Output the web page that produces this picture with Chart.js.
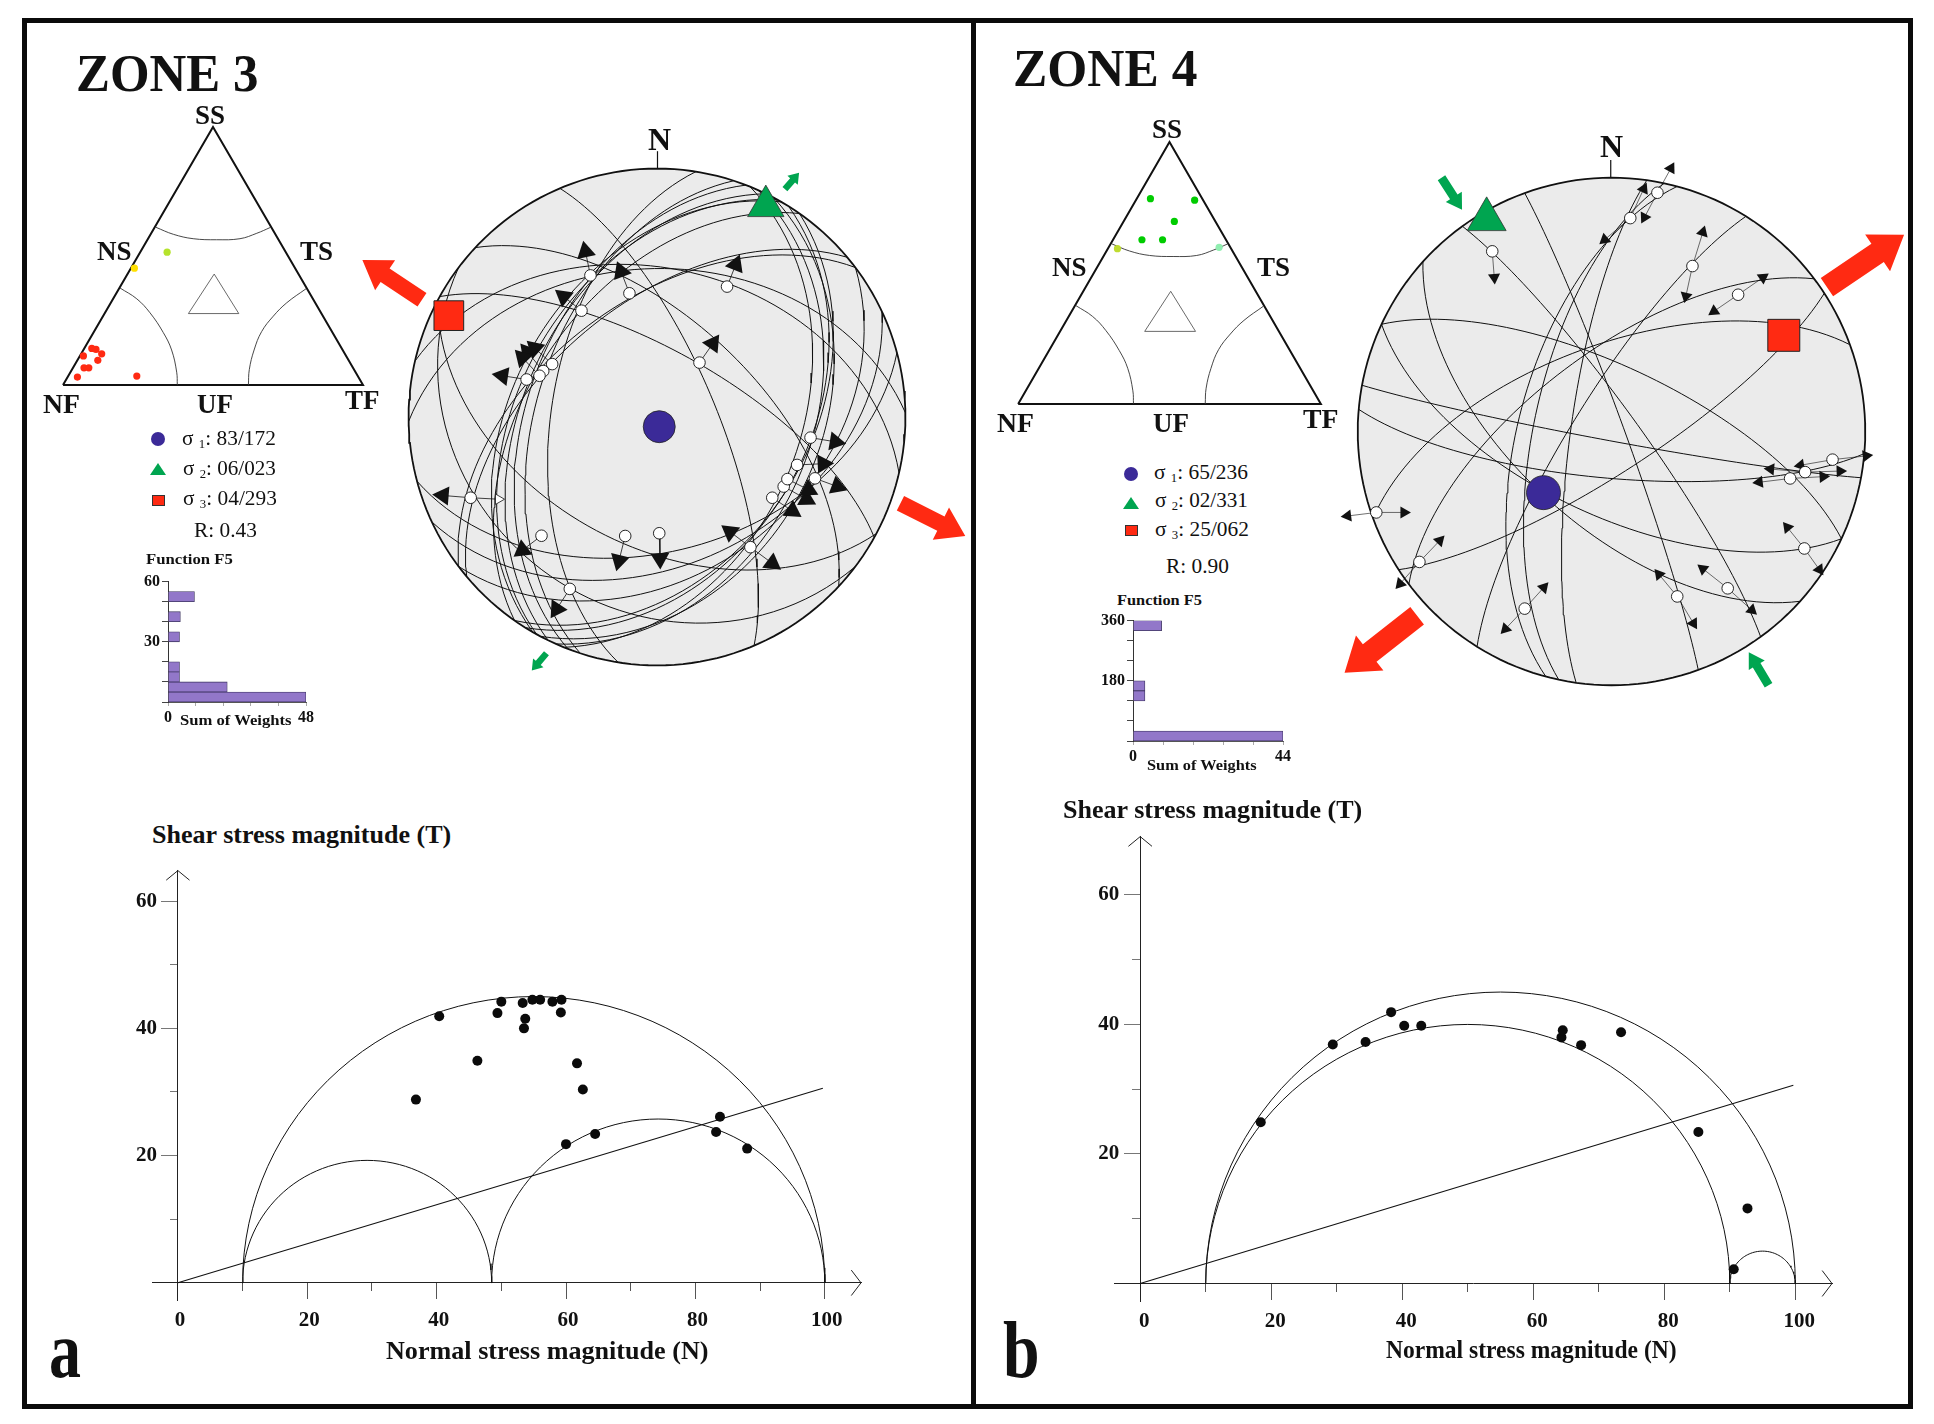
<!DOCTYPE html>
<html>
<head>
<meta charset="utf-8">
<title>Zone 3 and Zone 4 stress inversion</title>
<script src="https://cdn.jsdelivr.net/npm/chart.js@4"></script>
<style>
html, body { margin: 0; padding: 0; background: #fff; overflow: hidden; }
#page { position: relative; width: 1934px; height: 1424px; font-family: "Liberation Serif", serif; color: #111; overflow: hidden; }
canvas { position: absolute; }
.txt { position: absolute; white-space: nowrap; line-height: 1; transform-origin: 0 50%; }
.bar { position: absolute; background: #0b0b0b; }
.mark { position: absolute; box-sizing: border-box; }
</style>
</head>
<body>
<div id="page"></div>
<script>
// ---------- ternary diagram template (percent of base, percent of height)
const triangleFrame = [[0,0],[100,0],[50,100],[0,0]];
const innerTriangle = [[41.8,27.7],[58.6,27.7],[50.4,43],[41.8,27.7]];
const arcSS = [[31,61.1],[36.8,58.4],[43.4,56.7],[51.2,56.3],[59,56.7],[64.6,58.8],[69.2,61.1]];
const arcNF = [[19,37.6],[24.6,33.4],[29,28],[33.4,20.4],[36.2,13.6],[37.9,5],[38.1,0]];
const arcTF = [[81,37.3],[74.6,31.9],[70.1,26.7],[66.2,20.7],[63.7,13.6],[62.1,6],[61.8,0]];

// ---------- zone 3 (panel a)
const ternaryRedA = [[6.8,11.3],[9.6,14.2],[11,13.8],[12.9,12.1],[11.6,9.6],[7,6.7],[8.6,6.7],[4.8,3.1],[24.6,3.5]];
const ternaryYellowA = [[23.8,45.3]];
const ternaryLimeA = [[34.7,51.5]];
const stressLabelsA = ['83/172','06/023','04/293'];
const ratioA = '0.43';
const histValuesA = [48,20.6,4,4,null,null,4,null,4.3,null,9.2,null];
const planesA = [[29,68],[43,58],[67,71],[279,55],[155,40],[13,40],[359,40],[323,52],[165,45],[143,37],[217,24],[208,47],
  [320,53],[305,48],[299,44],[296,46],[291,47],[288,50],[300,42],
  [112,42],[114,38],[118,35],[122,40],[125,40]];
const slipPointsA = [[-26.8,57],[-11.1,49.8],[-30.4,42.8],[28.2,52.5],[17.1,21.9],[-42.2,21.3],[-45.8,18.5],[-47.3,16.6],[-52.5,15.1],
  [-75,-32.5],[-46.5,-47.8],[-12.8,-47.9],[0.9,-46.8],[-35.1,-69.2],[37.6,-52.4],[46.4,-32.5],[51,-28],[52.5,-25],[56.4,-19.3],[63.6,-24.7],[61.8,-8.3]];
const slipHeadsA = [[[-28.8,66.6]],[[-14.5,58.6]],[[-37.6,48.5]],[[31.7,61.3]],[[22.5,29.6]],[[-49.2,27.7]],[[-52.2,26.2]],[[-54.2,23.9]],[[-62.2,16.6]],
  [[-86.1,-31.6]],[[-54.2,-53.6]],[[-15.3,-57.8]],[[1.2,-57]],[[-40.4,-77.3]],[[29.4,-46.2],[46.4,-58.9]],[[54.5,-37.8]],[[60.2,-33.1]],[[61,-29.3]],[[66.9,-18.8]],[[72.6,-28]],[[71.8,-10]]];
const sigma1A = [0.9,-3.9];
const sigma2A = [43.8,84.9];
const sigma3A = [-83.8,40.8];
const redArrowsA = [[[-94.6,47.2],[-118.6,63.2]],[[98,-34.7],[124.1,-47.9]]];
const greenArrowsA = [[[51.5,91.7],[57.2,98.3]],[[-44.5,-95.1],[-50.4,-102]]];
const mohrPointsA = [[40.4,41.9],[50,44.2],[49.4,42.4],[53.3,44],[54.8,44.5],[56,44.5],[57.9,44.2],[59.3,44.5],[59.2,42.5],[53.7,41.5],[53.5,40],
  [46.3,34.9],[36.8,28.8],[61.7,34.5],[62.6,30.4],[60,21.8],[64.5,23.4],[83.8,26.1],[83.2,23.7],[88,21.1]];
const mohrCirclesA = [[10,100],[10,48.5],[48.5,100]];

// ---------- zone 4 (panel b)
const ternaryGreenB = [[43.7,78.4],[58.3,77.8],[51.6,69.7],[40.9,62.7],[47.7,62.7]];
const ternaryLimeB = [[32.8,59.3]];
const ternaryMintB = [[66.4,59.8]];
const stressLabelsB = ['65/236','02/331','25/062'];
const ratioB = '0.90';
const histValuesB = [44,null,null,null,3.5,3.5,null,null,null,null,null,8.4];
const planesB = [[70,86],[222,60],[205,63],[190.5,87],[185,75],[25,69],[340,62],[323,65],[302,78],[147,77],[285,60],[282,65],[278,77],[54,82]];
const slipPointsB = [[-47,71],[7.4,84.1],[18.1,94.1],[31.9,65.2],[49.9,53.9],[87.1,-11.1],[76.3,-16],[70.4,-18.5],[76,-46.1],[45.8,-61.8],[25.9,-65],[-34.2,-69.8],[-75.7,-51.4],[-92.7,-31.9]];
const slipHeadsB = [[[-46.2,60.7]],[[-2.7,75.6],[12.7,95.6]],[[13,84.4],[23.4,103.7]],[[36,78.5],[29.3,53.3]],[[59.7,60.7],[40.4,47.4]],[[100.4,-9.6],[74.5,-13.3]],[[90.1,-15.6],[62.7,-14.8]],
  [[83.4,-17.8],[58.2,-20]],[[69.3,-37.8],[81.9,-54.4]],[[36,-54.1],[55.3,-70.4]],[[18.7,-56.3],[32.3,-75.6]],[[-26.7,-61.5],[-41.8,-77.8]],[[-67.7,-43],[-83.3,-60]],[[-81.8,-31.9],[-104,-33.3]]];
const sigma1B = [-26.8,-24.1];
const sigma2B = [-49.2,83.6];
const sigma3B = [67.9,37.9];
const redArrowsB = [[[84.9,56.9],[115.3,77.5]],[[-76.6,-72.6],[-105.2,-95.1]]];
const greenArrowsB = [[[-67,100],[-58.9,87.4]],[[61.9,-100],[54.1,-87]]];
const mohrPointsB = [[18.4,24.9],[29.4,36.9],[34.4,37.3],[38.3,41.9],[40.3,39.8],[42.9,39.8],[64.3,38],[64.5,39.1],[67.3,36.8],[73.4,38.8],[85.2,23.4],[92.7,11.6],[90.6,2.2]];
const mohrCirclesB = [[10,100],[10,90],[90,100]];

const slopeEnd = [99.7,30.6];
const histBins = ['b1','b2','b3','b4','b5','b6','b7','b8','b9','b10','b11','b12'];

const page = document.getElementById('page');
const toXY = list => list.map(p => ({ x: p[0], y: p[1] }));

function addCanvas(left, top, w, h) {
    const c = document.createElement('canvas');
    c.width = w;
    c.height = h;
    c.style.left = left + 'px';
    c.style.top = top + 'px';
    page.appendChild(c);
    return c;
}

// text stretched to the width it has in the picture
function addText(html, x1, x2, yc, size, bold) {
    const s = document.createElement('span');
    s.className = 'txt';
    s.innerHTML = html;
    s.style.left = x1 + 'px';
    s.style.top = (yc - size / 2) + 'px';
    s.style.fontSize = size + 'px';
    s.style.fontWeight = bold ? 'bold' : 'normal';
    page.appendChild(s);
    s.style.transform = 'scaleX(' + ((x2 - x1) / s.offsetWidth) + ')';
}

function addBar(x, y, w, h) {
    const d = document.createElement('div');
    d.className = 'bar';
    d.style.cssText = 'left:' + x + 'px;top:' + y + 'px;width:' + w + 'px;height:' + h + 'px';
    page.appendChild(d);
}

function addMarks(x, ys) {
    const circle = document.createElement('div');
    circle.className = 'mark';
    circle.style.cssText = 'left:' + (x - 7) + 'px;top:' + (ys[0] - 7) + 'px;width:14px;height:14px;border-radius:50%;background:#3b2a98';
    const tri = document.createElement('div');
    tri.className = 'mark';
    tri.style.cssText = 'left:' + (x - 8) + 'px;top:' + (ys[1] - 6) + 'px;width:0;height:0;border-left:8px solid transparent;border-right:8px solid transparent;border-bottom:12px solid #00a550';
    const sq = document.createElement('div');
    sq.className = 'mark';
    sq.style.cssText = 'left:' + (x - 6.5) + 'px;top:' + (ys[2] - 5.5) + 'px;width:13px;height:11px;background:#ff2a12;border:1px solid #333';
    page.append(circle, tri, sq);
}

function lineSet(points, color, width, extra) {
    return Object.assign({ data: toXY(points), borderColor: color, borderWidth: width, pointRadius: 0, fill: false, clip: false, tension: 0 }, extra || {});
}

function dotSet(points, color, radius, extra) {
    return Object.assign({ data: toXY(points), showLine: false, backgroundColor: color, borderColor: color, borderWidth: 0, pointRadius: radius, clip: false }, extra || {});
}

function baseOptions(scales, padding) {
    return {
        responsive: false,
        animation: false,
        events: [],
        layout: { autoPadding: false, padding: padding || 0 },
        plugins: { legend: { display: false }, tooltip: { enabled: false } },
        scales: scales
    };
}

// ---------- ternary
function ternaryChart(nfX, baseY, w, h, dots) {
    const pad = 5;
    const pxX = w / 100, pxY = h / 100;
    const c = addCanvas(nfX - pad * pxX, baseY - (100 + pad) * pxY, w + 2 * pad * pxX, h + 2 * pad * pxY);
    const datasets = [
        lineSet(triangleFrame, '#111', 2),
        lineSet(innerTriangle, '#444', 0.8),
        lineSet(arcSS, '#333', 0.9, { tension: 0.4 }),
        lineSet(arcNF, '#333', 0.9, { tension: 0.4 }),
        lineSet(arcTF, '#333', 0.9, { tension: 0.4 })
    ].concat(dots);
    new Chart(c, {
        type: 'line',
        data: { datasets: datasets.reverse() },
        options: baseOptions({
            x: { type: 'linear', display: false, min: -pad, max: 100 + pad },
            y: { type: 'linear', display: false, min: -pad, max: 100 + pad }
        })
    });
}

// ---------- stereonet, lower hemisphere equal area
function greatCircle(dipDir, dip) {
    const rad = Math.PI / 180, pts = [];
    for (let t = 0; t <= 180; t += 3) {
        const a = t * rad;
        const plunge = Math.asin(Math.sin(dip * rad) * Math.sin(a));
        const trend = (dipDir - 90) * rad + Math.atan2(Math.cos(dip * rad) * Math.sin(a), Math.cos(a));
        const r = 100 * Math.SQRT2 * Math.sin((Math.PI / 2 - plunge) / 2);
        pts.push([r * Math.sin(trend), r * Math.cos(trend)]);
    }
    return pts;
}

function rimCircle() {
    const pts = [];
    for (let t = 0; t <= 360; t += 2) {
        pts.push([100 * Math.sin(t * Math.PI / 180), 100 * Math.cos(t * Math.PI / 180)]);
    }
    return pts;
}

function blockArrow(tail, tip, shaft, head, headLen) {
    const dx = tip[0] - tail[0], dy = tip[1] - tail[1], len = Math.hypot(dx, dy);
    const ux = dx / len, uy = dy / len, nx = -uy, ny = ux;
    const at = (along, side) => [tail[0] + ux * along + nx * side, tail[1] + uy * along + ny * side];
    const neck = len - headLen;
    return [at(0, shaft / 2), at(neck, shaft / 2), at(neck, head / 2), at(len, 0), at(neck, -head / 2), at(neck, -shaft / 2), at(0, -shaft / 2), at(0, shaft / 2)];
}

function netChart(cfg) {
    const k = cfg.radius / 100;
    const range = cfg.range;
    const c = addCanvas(cfg.cx - range * k, cfg.cy - range * k, 2 * range * k, 2 * range * k);
    const datasets = [];
    datasets.push(lineSet(rimCircle(), '#111', 1.8, { fill: 'shape', backgroundColor: '#ebebeb' }));
    datasets.push(lineSet([[cfg.tickX, 100], [cfg.tickX, 107]], '#111', 1.2));
    cfg.planes.forEach(p => datasets.push(lineSet(greatCircle(p[0], p[1]), '#111', 1)));
    // slip vectors: a stem from each fault pole to its arrow heads
    const heads = [], rotations = [];
    cfg.slipPoints.forEach((pt, i) => {
        cfg.slipHeads[i].forEach(h => {
            datasets.push(lineSet([pt, h], '#111', cfg.stem));
            heads.push(h);
            rotations.push(Math.atan2(h[0] - pt[0], h[1] - pt[1]) * 180 / Math.PI);
        });
    });
    datasets.push(dotSet(heads, '#111', cfg.headSize, { pointStyle: 'triangle', pointRotation: rotations }));
    if (cfg.hollow) {
        datasets.push(lineSet([cfg.hollow[0], cfg.hollow[1]], '#111', 0.8));
        datasets.push(dotSet([cfg.hollow[1]], '#fff', 6, { pointStyle: 'triangle', borderColor: '#111', borderWidth: 0.8, pointRotation: [90] }));
    }
    datasets.push(dotSet(cfg.slipPoints, '#fff', 5.8, { borderColor: '#111', borderWidth: 0.9 }));
    datasets.push(dotSet([cfg.sigma1], '#3b2a98', cfg.sigma1Size, { borderColor: '#222', borderWidth: 0.8 }));
    datasets.push(dotSet([cfg.sigma2], '#00a550', cfg.sigma2Size, { pointStyle: 'triangle', borderColor: '#333', borderWidth: 0.8 }));
    datasets.push(dotSet([cfg.sigma3], '#ff2a12', cfg.sigma3Size, { pointStyle: 'rect', borderColor: '#222', borderWidth: 1 }));
    cfg.red.forEach(a => datasets.push(lineSet(blockArrow(a[0], a[1], cfg.redShaft, cfg.redHead, cfg.redHeadLen), '#ff2a12', 0, { fill: 'shape', backgroundColor: '#ff2a12' })));
    cfg.green.forEach(a => datasets.push(lineSet(blockArrow(a[0], a[1], cfg.greenShaft, cfg.greenHead, cfg.greenHeadLen), '#00a550', 0, { fill: 'shape', backgroundColor: '#00a550' })));
    new Chart(c, {
        type: 'line',
        data: { datasets: datasets.reverse() },
        options: baseOptions({
            x: { type: 'linear', display: false, min: -range, max: range },
            y: { type: 'linear', display: false, min: -range, max: range }
        })
    });
}

// ---------- histogram of the misfit function
function histChart(cfg) {
    const left = 44, right = 14, top = 10, bottom = 24;
    const w = cfg.xEnd - cfg.x0, h = cfg.y0 - cfg.yTop;
    const c = addCanvas(cfg.x0 - left, cfg.yTop - top, w + left + right, h + top + bottom);
    const font = { family: 'Liberation Serif', size: 16, weight: 'bold' };
    new Chart(c, {
        type: 'bar',
        data: {
            labels: histBins,
            datasets: [{ data: cfg.values, backgroundColor: '#9277c9', borderColor: '#3d3560', borderWidth: 0.8, barPercentage: 1, categoryPercentage: 1 }]
        },
        options: Object.assign(baseOptions({
            y: { type: 'category', display: false, reverse: true },
            x: {
                type: 'linear', min: 0, max: cfg.xMax, position: { v: 0 },
                border: { color: '#555' }, grid: { drawOnChartArea: false, tickLength: 3, tickColor: '#aaa' },
                ticks: { stepSize: cfg.xMax / 5, maxRotation: 0, autoSkip: false, padding: 3, color: '#111', font: font,
                    callback: v => (v === 0 || v === cfg.xMax) ? String(v) : '' }
            },
            v: {
                // a second y scale on a bar chart inherits the category offset, so switch it off
                type: 'linear', axis: 'y', min: 0, max: cfg.yMax, position: { x: 0 }, offset: false,
                border: { color: '#333' }, grid: { offset: false, drawOnChartArea: false, tickLength: 6, tickColor: '#444' },
                ticks: { stepSize: cfg.yMax / 6, autoSkip: false, padding: 2, color: '#111', font: font,
                    // labels of an axis placed by value sit on the line, the spaces move them past the tick
                    callback: v => (v === cfg.yMax || v === cfg.yMax / 2) ? v + '  ' : '' }
            }
        }, { left: left, right: right, top: top, bottom: bottom }), { indexAxis: 'y' })
    });
}

// ---------- Mohr diagram
function semiCircle(lo, hi) {
    const pts = [], c = (lo + hi) / 2, r = (hi - lo) / 2;
    for (let t = 0; t <= 180; t += 3) {
        pts.push([c - r * Math.cos(t * Math.PI / 180), r * Math.sin(t * Math.PI / 180)]);
    }
    return pts;
}

function mohrChart(cfg) {
    const xMin = -4, xMax = 105.6, yMin = -2.7, yMax = cfg.yMax;
    const kx = (cfg.x100 - cfg.x0) / 100, ky = (cfg.y0 - cfg.y60) / 60;
    const pad = { left: 60, right: 30, top: 10, bottom: 60 };
    const areaW = (xMax - xMin) * kx, areaH = (yMax - yMin) * ky;
    const c = addCanvas(cfg.x0 + xMin * kx - pad.left, cfg.y0 - yMax * ky - pad.top, areaW + pad.left + pad.right, areaH + pad.top + pad.bottom);
    const font = { family: 'Liberation Serif', size: 21, weight: 'bold' };
    const datasets = [
        lineSet([[xMax - 1.5, 2], [xMax, 0], [xMax - 1.5, -2]], '#222', 1),
        lineSet([[-1.8, yMax - 1.5], [0, yMax], [1.8, yMax - 1.5]], '#222', 1),
        lineSet([[0, 0], slopeEnd], '#111', 1.1)
    ];
    cfg.circles.forEach(s => datasets.push(lineSet(semiCircle(s[0], s[1]), '#111', 1)));
    datasets.push(dotSet(cfg.points, '#0b0b0b', 5));
    new Chart(c, {
        type: 'line',
        data: { datasets: datasets.reverse() },
        options: baseOptions({
            x: {
                type: 'linear', min: xMin, max: xMax, position: { y: 0 },
                border: { color: '#222', width: 1 }, grid: { drawOnChartArea: false, tickLength: 16, tickColor: '#555' },
                ticks: { stepSize: 20, includeBounds: false, maxRotation: 0, autoSkip: false, padding: 9, labelOffset: cfg.labelOffset, color: '#111', font: font }
            },
            x2: {
                type: 'linear', axis: 'x', min: xMin, max: xMax, position: { y: 0 },
                border: { display: false }, grid: { drawOnChartArea: false, tickLength: 8, tickColor: '#555' },
                ticks: { stepSize: 10, includeBounds: false, display: false }
            },
            y: {
                type: 'linear', min: yMin, max: yMax, position: { x: 0 },
                border: { color: '#222', width: 1 }, grid: { drawOnChartArea: false, tickLength: 16, tickColor: '#777' },
                ticks: { stepSize: 20, includeBounds: false, autoSkip: false, color: '#111', font: font,
                    callback: v => v === 0 ? '' : v + '    ' }
            },
            y2: {
                type: 'linear', axis: 'y', min: yMin, max: yMax, position: { x: 0 },
                border: { display: false }, grid: { drawOnChartArea: false, tickLength: 8, tickColor: '#777' },
                ticks: { stepSize: 10, includeBounds: false, display: false }
            }
        }, pad)
    });
}

function sigmaText(n, label) {
    return '&sigma; <span style="font-size:0.6em;position:relative;top:0.25em">' + n + '</span>: ' + label;
}

// ---------- frame
addBar(22, 18, 1891, 5);
addBar(22, 1404, 1891, 5);
addBar(22, 18, 5, 1391);
addBar(1908, 18, 5, 1391);
addBar(971, 18, 5, 1391);

// ---------- panel a
ternaryChart(63, 386, 300, 259, [
    dotSet(ternaryRedA, '#ff2a12', 3.6),
    dotSet(ternaryYellowA, '#ffe000', 3.6),
    dotSet(ternaryLimeA, '#b5e32c', 3.6)
]);
histChart({ x0: 168, xEnd: 306, y0: 702, yTop: 580, xMax: 48, yMax: 60, values: histValuesA });
netChart({ cx: 657.5, cy: 417.6, radius: 248.6, range: 126, tickX: 0.2, planes: planesA, slipPoints: slipPointsA, slipHeads: slipHeadsA, stem: 0.8,
    hollow: [[-75, -32.5], [-63.8, -33.1]], headSize: 11, sigma1: sigma1A, sigma2: sigma2A, sigma3: sigma3A, sigma1Size: 16, sigma2Size: 21, sigma3Size: 21,
    red: redArrowsA, green: greenArrowsA, redShaft: 6.5, redHead: 14.5, redHeadLen: 11, greenShaft: 2.6, greenHead: 5.5, greenHeadLen: 4 });
mohrChart({ x0: 178, x100: 825, y0: 1283.5, y60: 896, yMax: 64.8, labelOffset: 2, points: mohrPointsA, circles: mohrCirclesA });

addText('ZONE 3', 76, 258, 74, 52, true);
addText('SS', 195, 225, 115, 27, true);
addText('NS', 97, 132, 251, 27, true);
addText('TS', 300, 333, 251, 27, true);
addText('NF', 43, 80, 404, 27, true);
addText('UF', 197, 233, 404, 27, true);
addText('TF', 345, 380, 400, 27, true);
addMarks(158, [439, 469, 500]);
addText(sigmaText(1, stressLabelsA[0]), 182, 276, 438, 20, false);
addText(sigmaText(2, stressLabelsA[1]), 183, 276, 468, 20, false);
addText(sigmaText(3, stressLabelsA[2]), 183, 277, 498, 20, false);
addText('R: ' + ratioA, 194, 257, 530, 20, false);
addText('Function F5', 146, 233, 559, 15, true);
addText('Sum of Weights', 180, 292, 720, 15, true);
addText('N', 648, 671, 139, 32, true);
addText('Shear stress magnitude (T)', 152, 451, 834, 25, true);
addText('Normal stress magnitude (N)', 386, 709, 1350, 25, true);
addText('a', 49, 81, 1350, 80, true);

// ---------- panel b
ternaryChart(1018, 404.6, 303, 262.6, [
    dotSet(ternaryGreenB, '#00cc00', 3.6),
    dotSet(ternaryLimeB, '#bfdc30', 3.6),
    dotSet(ternaryMintB, '#90eeb0', 3.6)
]);
histChart({ x0: 1133, xEnd: 1283, y0: 741, yTop: 618.5, xMax: 44, yMax: 360, values: histValuesB });
netChart({ cx: 1611.7, cy: 432, radius: 254, range: 120, tickX: -0.3, planes: planesB, slipPoints: slipPointsB, slipHeads: slipHeadsB, stem: 0.6,
    headSize: 7, sigma1: sigma1B, sigma2: sigma2B, sigma3: sigma3B, sigma1Size: 17, sigma2Size: 22.5, sigma3Size: 22.6,
    red: redArrowsB, green: greenArrowsB, redShaft: 8.7, redHead: 17.5, redHeadLen: 12.6, greenShaft: 3.5, greenHead: 7.5, greenHeadLen: 6 });
mohrChart({ x0: 1140, x100: 1795.3, y0: 1284, y60: 890, yMax: 69, labelOffset: 4, points: mohrPointsB, circles: mohrCirclesB });

addText('ZONE 4', 1013, 1197, 69, 52, true);
addText('SS', 1152, 1182, 129, 27, true);
addText('NS', 1052, 1087, 267, 27, true);
addText('TS', 1257, 1290, 267, 27, true);
addText('NF', 997, 1034, 423, 27, true);
addText('UF', 1153, 1189, 423, 27, true);
addText('TF', 1303, 1339, 419, 27, true);
addMarks(1131, [474, 503, 530]);
addText(sigmaText(1, stressLabelsB[0]), 1154, 1248, 472, 20, false);
addText(sigmaText(2, stressLabelsB[1]), 1155, 1248, 500, 20, false);
addText(sigmaText(3, stressLabelsB[2]), 1155, 1249, 529, 20, false);
addText('R: ' + ratioB, 1166, 1229, 566, 20, false);
addText('Function F5', 1117, 1202, 600, 15, true);
addText('Sum of Weights', 1147, 1257, 765, 15, true);
addText('N', 1600, 1623, 146, 32, true);
addText('Shear stress magnitude (T)', 1063, 1362, 809, 25, true);
addText('Normal stress magnitude (N)', 1386, 1677, 1349, 25, true);
addText('b', 1003, 1040, 1350, 80, true);
</script>
</body>
</html>
